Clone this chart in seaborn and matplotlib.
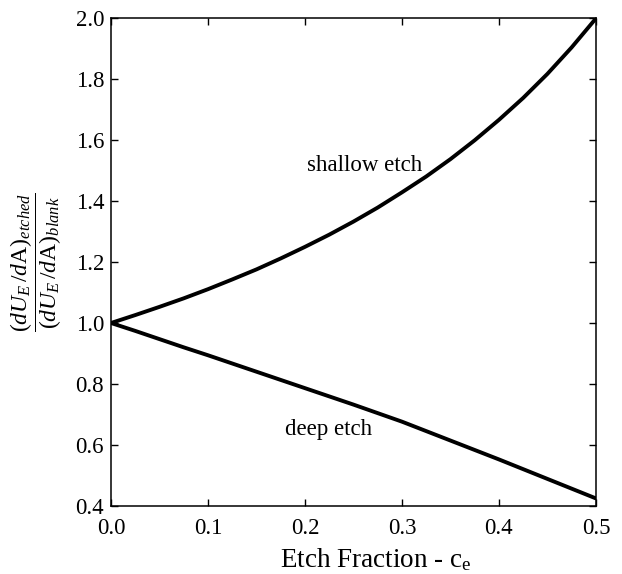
"""
plot.py — energy release ratio vs etch fraction (shallow / deep etch).
"""

import pandas as pd
import matplotlib
matplotlib.use('Agg')
import matplotlib.pyplot as plt
import seaborn as sns

# ── data ─────────────────────────────────────────────────────────────────────
ETCH_FRACTION = [0.0, 0.025, 0.05, 0.075, 0.1, 0.125, 0.15, 0.175, 0.2, 0.225, 0.25,
                 0.275, 0.3, 0.325, 0.35, 0.375, 0.4, 0.425, 0.45, 0.475, 0.5]
SHALLOW_ETCH  = [1.0, 1.026, 1.053, 1.081, 1.111, 1.143, 1.176, 1.212, 1.25, 1.290, 1.333,
                 1.379, 1.429, 1.481, 1.538, 1.600, 1.667, 1.739, 1.818, 1.905, 2.0]
DEEP_ETCH     = [1.0, 0.974, 0.947, 0.920, 0.894, 0.867, 0.840, 0.813, 0.786, 0.759, 0.732,
                 0.704, 0.676, 0.645, 0.614, 0.583, 0.552, 0.520, 0.488, 0.456, 0.424]

X_TICKS = [0.0, 0.1, 0.2, 0.3, 0.4, 0.5]
Y_TICKS = [0.4, 0.6, 0.8, 1.0, 1.2, 1.4, 1.6, 1.8, 2.0]

df = pd.DataFrame({
    'c_e':     ETCH_FRACTION * 2,
    'ratio':   SHALLOW_ETCH + DEEP_ETCH,
    'profile': ['shallow etch'] * len(SHALLOW_ETCH) + ['deep etch'] * len(DEEP_ETCH),
})

# ── style ────────────────────────────────────────────────────────────────────
sns.set_theme(style='ticks')
plt.rcParams['font.family'] = ['Liberation Serif', 'DejaVu Serif']
plt.rcParams['text.color'] = 'black'
plt.rcParams['mathtext.fontset'] = 'custom'
plt.rcParams['mathtext.rm'] = 'Liberation Serif'
plt.rcParams['mathtext.it'] = 'Liberation Serif:italic'
plt.rcParams['mathtext.bf'] = 'Liberation Serif:bold'

fig = plt.figure(figsize=(6.22, 5.74), dpi=100)
ax = fig.add_axes([0.1785, 0.119, 0.7795, 0.8488])

sns.lineplot(data=df, x='c_e', y='ratio', units='profile', estimator=None,
             color='black', linewidth=2.8, legend=False, ax=ax)

ax.set_xlim(0, 0.5)
ax.set_ylim(0.4, 2.0)
ax.set_xticks(X_TICKS)
ax.set_yticks(Y_TICKS)
ax.set_xticklabels([f'{t:.1f}' for t in X_TICKS])
ax.set_yticklabels([f'{t:.1f}' for t in Y_TICKS])
ax.tick_params(direction='in', length=5, width=1, colors='black',
               labelsize=16.5, top=True, right=True)
ax.tick_params(axis='x', pad=9)
ax.tick_params(axis='y', pad=5)
for s in ax.spines.values():
    s.set_visible(True)
    s.set_linewidth(1.1)
    s.set_color('black')

ax.set_xlabel(r'Etch Fraction - c$_\mathrm{e}$', fontsize=19.5, color='black')
ax.xaxis.set_label_coords(0.546, -0.11, transform=ax.transAxes)
ax.xaxis.label.set_va('center')
ax.set_ylabel(r'$\dfrac{(dU_E\,/d\mathrm{A})_{etched}}{(dU_E\,/d\mathrm{A})_{blank}}$',
              fontsize=17, color='black', labelpad=8)

ax.text(0.202, 1.516, 'shallow etch', fontsize=16.5, color='black', va='center', ha='left')
ax.text(0.179, 0.649, 'deep etch', fontsize=16.5, color='black', va='center', ha='left')

fig.savefig('out.png', dpi=100)
